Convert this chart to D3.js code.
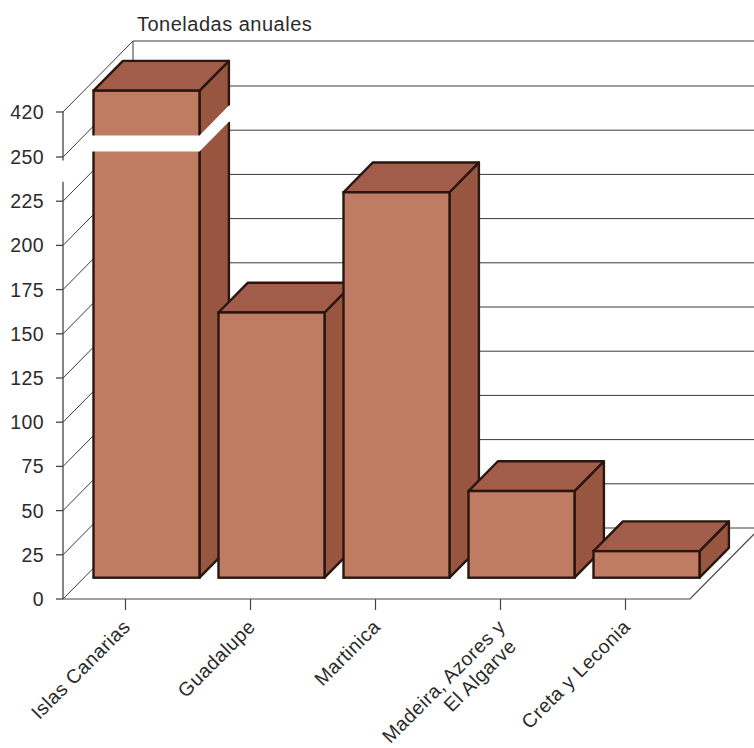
<!DOCTYPE html>
<html>
<head>
<meta charset="utf-8">
<script src="https://cdn.jsdelivr.net/npm/d3@7"></script>
<style>
  body { margin: 0; background: #fff; }
  text { font-family: "Liberation Sans", Arial, sans-serif; fill: #2b2b2b; }
</style>
</head>
<body>
<div id="chart"></div>
<script>
// data
var categories = ["Islas Canarias", "Guadalupe", "Martinica", "Madeira, Azores y|El Algarve", "Creta y Leconia"];
var values = [420, 150, 218, 49, 15];
var yTicks = [0, 25, 50, 75, 100, 125, 150, 175, 200, 225, 250, 420];
var yTitle = "Toneladas anuales";
var axisBreak = [236, 248];   // gap in the axis (values)
var barBreak = [241, 251];    // gap cut through the tall bar

var width = 754, height = 748;
var depthX = 70, depthY = -71;       // full depth of the box
var barFront = 0.3, barBack = 0.72;  // bars sit in the middle of the depth

var svg = d3.select("#chart").append("svg")
  .attr("width", width)
  .attr("height", height);

svg.append("rect").attr("width", width).attr("height", height).attr("fill", "#fff");

// scales (broken axis: 0-250 linear, then 250-420 squeezed)
var y = d3.scaleLinear().domain([0, 250, 420]).range([599, 157, 112]);
var x = d3.scaleBand().domain(categories).range([63, 688]);

var x0 = x.range()[0], x1 = x.range()[1];

// back wall grid lines
svg.append("g").selectAll("line")
  .data(yTicks)
  .join("line")
  .attr("x1", x0 + depthX).attr("x2", width + 10)
  .attr("y1", function(d) { return y(d) + depthY; })
  .attr("y2", function(d) { return y(d) + depthY; })
  .attr("stroke", "#3a3a3a").attr("stroke-width", 1);

// back left edge
svg.append("line")
  .attr("x1", x0 + depthX).attr("x2", x0 + depthX)
  .attr("y1", y(420) + depthY).attr("y2", y(0) + depthY)
  .attr("stroke", "#3a3a3a").attr("stroke-width", 1);

// left wall diagonals
svg.append("g").selectAll("line")
  .data(yTicks)
  .join("line")
  .attr("x1", x0).attr("x2", x0 + depthX)
  .attr("y1", function(d) { return y(d); })
  .attr("y2", function(d) { return y(d) + depthY; })
  .attr("stroke", "#3a3a3a").attr("stroke-width", 1);

// floor
svg.append("path")
  .attr("d", "M" + x0 + "," + y(0) + "L" + (x1 + 2) + "," + y(0) + "L" + (x1 + 2 + depthX) + "," + (y(0) + depthY))
  .attr("fill", "none").attr("stroke", "#444").attr("stroke-width", 1.2);

// y axis with break
svg.append("line")
  .attr("x1", x0).attr("x2", x0)
  .attr("y1", y(420)).attr("y2", y(axisBreak[1]))
  .attr("stroke", "#444").attr("stroke-width", 1.3);
svg.append("line")
  .attr("x1", x0).attr("x2", x0)
  .attr("y1", y(axisBreak[0])).attr("y2", y(0))
  .attr("stroke", "#444").attr("stroke-width", 1.3);

var yt = svg.append("g").selectAll("g")
  .data(yTicks)
  .join("g")
  .attr("transform", function(d) { return "translate(0," + y(d) + ")"; });
yt.append("line").attr("x1", x0 - 7).attr("x2", x0).attr("stroke", "#444").attr("stroke-width", 1.3);
yt.append("text")
  .attr("x", 44).attr("dy", "0.36em")
  .attr("text-anchor", "end")
  .attr("font-size", 19.5)
  .attr("letter-spacing", 0.4)
  .text(function(d) { return d; });

svg.append("text")
  .attr("x", 137).attr("y", 31)
  .attr("font-size", 20)
  .attr("letter-spacing", 0.5)
  .text(yTitle);

// x ticks + labels
var xt = svg.append("g").selectAll("g")
  .data(categories)
  .join("g")
  .attr("transform", function(d) { return "translate(" + (x(d) + x.bandwidth() / 2) + "," + y(0) + ")"; });
xt.append("line").attr("y1", 0).attr("y2", 11).attr("stroke", "#444").attr("stroke-width", 1.2);
xt.append("text")
  .attr("transform", "translate(6,29) rotate(-45)")
  .attr("text-anchor", "end")
  .attr("font-size", 19.5)
  .attr("letter-spacing", 0.5)
  .each(function(d) {
    var lines = d.split("|");
    var t = d3.select(this);
    lines.forEach(function(l, i) {
      t.append("tspan")
        .attr("x", i == 0 ? 0 : -6)
        .attr("dy", i == 0 ? 0 : "1.1em")
        .text(l);
    });
  });

// bars
var bw = x.bandwidth() * 0.848;
var offX = depthX * barFront, offY = depthY * barFront;
var bdx = depthX * (barBack - barFront), bdy = depthY * (barBack - barFront);

var bars = svg.append("g").selectAll("g")
  .data(values)
  .join("g");

bars.each(function(v, i) {
  var g = d3.select(this);
  var cx = x(categories[i]) + x.bandwidth() / 2;
  var l = cx - bw / 2 + offX, r = cx + bw / 2 + offX;
  var top = y(v) + offY, bot = y(0) + offY;
  var stroke = "#2a1610";

  g.append("path")
    .attr("d", "M" + r + "," + top + "L" + (r + bdx) + "," + (top + bdy) + "L" + (r + bdx) + "," + (bot + bdy) + "L" + r + "," + bot + "Z")
    .attr("fill", "#98553f").attr("stroke", stroke).attr("stroke-width", 2.4).attr("stroke-linejoin", "round");
  g.append("path")
    .attr("d", "M" + l + "," + top + "L" + r + "," + top + "L" + (r + bdx) + "," + (top + bdy) + "L" + (l + bdx) + "," + (top + bdy) + "Z")
    .attr("fill", "#a15d49").attr("stroke", stroke).attr("stroke-width", 2.4).attr("stroke-linejoin", "round");
  g.append("rect")
    .attr("x", l).attr("y", top)
    .attr("width", r - l).attr("height", bot - top)
    .attr("fill", "#c07b63").attr("stroke", stroke).attr("stroke-width", 2.4);

  // white cut through the bar that goes past the axis break
  if (v > barBreak[1]) {
    var a = y(barBreak[1]) + offY, b = y(barBreak[0]) + offY;
    g.append("path")
      .attr("d", "M" + (l - 3) + "," + a + "L" + r + "," + a + "L" + (r + bdx) + "," + (a + bdy) + "L" + (r + bdx + 3) + "," + (a + bdy) +
        "L" + (r + bdx + 3) + "," + (b + bdy) + "L" + (r + bdx) + "," + (b + bdy) + "L" + r + "," + b + "L" + (l - 3) + "," + b + "Z")
      .attr("fill", "#fff");
  }
});
</script>
</body>
</html>
